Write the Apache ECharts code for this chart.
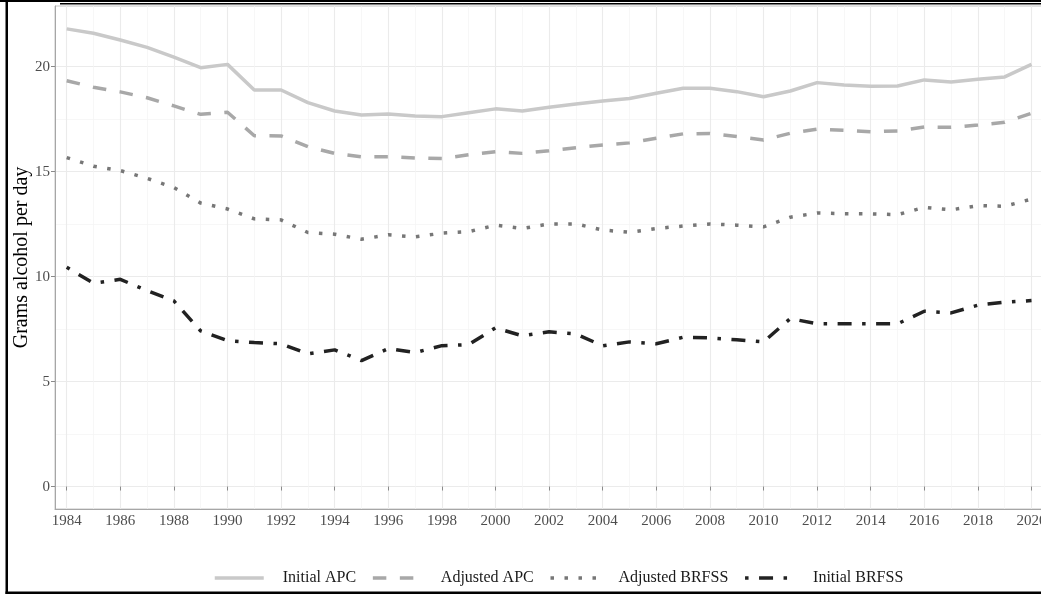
<!DOCTYPE html>
<html>
<head>
<meta charset="utf-8">
<script src="https://cdn.jsdelivr.net/npm/echarts@6/dist/echarts.min.js"></script>
<style>
html,body{margin:0;padding:0;background:#fff;}
#chart{width:1041px;height:594px;}
</style>
</head>
<body>
<div id="chart"></div>
<script>
const years = [1984,1985,1986,1987,1988,1989,1990,1991,1992,1993,1994,1995,1996,1997,1998,1999,2000,2001,2002,2003,2004,2005,2006,2007,2008,2009,2010,2011,2012,2013,2014,2015,2016,2017,2018,2019,2020];
const initialAPC = [21.8,21.59,21.27,20.92,20.45,19.95,20.11,18.89,18.89,18.29,17.89,17.70,17.75,17.65,17.62,17.81,17.99,17.89,18.07,18.22,18.37,18.48,18.73,18.97,18.97,18.81,18.57,18.84,19.24,19.13,19.07,19.08,19.37,19.27,19.40,19.51,20.11];
const adjustedAPC = [19.33,19.02,18.8,18.52,18.13,17.73,17.83,16.71,16.70,16.19,15.87,15.71,15.71,15.65,15.62,15.81,15.95,15.87,16.0,16.14,16.27,16.37,16.59,16.8,16.82,16.67,16.51,16.83,17.02,16.97,16.9,16.94,17.13,17.11,17.22,17.35,17.78];
const adjustedBRFSS = [15.67,15.26,15.05,14.68,14.24,13.5,13.22,12.75,12.7,12.1,12.02,11.78,11.99,11.89,12.07,12.14,12.45,12.29,12.51,12.51,12.22,12.11,12.29,12.41,12.51,12.45,12.37,12.83,13.03,13.0,12.99,12.95,13.3,13.18,13.38,13.35,13.69];
const initialBRFSS = [10.45,9.68,9.87,9.33,8.84,7.41,6.95,6.86,6.8,6.32,6.51,6.0,6.57,6.38,6.71,6.76,7.56,7.18,7.37,7.27,6.7,6.89,6.8,7.11,7.08,6.99,6.89,8.0,7.75,7.75,7.75,7.75,8.35,8.27,8.64,8.78,8.86];
const seriesNames = ['Initial APC','Adjusted APC','Adjusted BRFSS','Initial BRFSS'];
const yTitle = 'Grams alcohol per day';

const FONT = 'Liberation Serif';
const pair = arr => years.map((y,i)=>[y,arr[i]]);

const chart = echarts.init(document.getElementById('chart'), null, {renderer:'canvas'});
const gridCol = '#ebebeb';
const minorCol = '#f4f4f4';
const lw = 3.5;

const option = {
  backgroundColor:'#ffffff',
  animation:false,
  grid:[
    {left:66.7, top:6, width:964.8, height:503, outerBoundsMode:'none', containLabel:false},
    {left:55, top:66.7, width:988, height:420, outerBoundsMode:'none', containLabel:false},
    {left:55, top:6, width:988, height:503, show:true, borderColor:'#c4c4c4', borderWidth:1, backgroundColor:'transparent', outerBoundsMode:'none', containLabel:false}
  ],
  xAxis:[
    {type:'value', gridIndex:0, min:1984, max:2020, interval:2,
     axisLine:{show:false},
     axisTick:{show:true, length:4, lineStyle:{color:'#8a8a8a', width:1}},
     axisLabel:{color:'#4d4d4d', fontFamily:FONT, fontSize:15, margin:5, showMinLabel:true, showMaxLabel:true,
                formatter: v => String(v)},
     splitLine:{show:true, lineStyle:{color:gridCol, width:1.1}},
     minorTick:{show:false, splitNumber:2},
     minorSplitLine:{show:true, lineStyle:{color:minorCol, width:0.7}}
    },
    {type:'value', gridIndex:1, min:0, max:1, show:false},
    {type:'value', gridIndex:2, min:0, max:1,
     axisLine:{show:true, onZero:false, lineStyle:{color:'#a6a6a6', width:1}},
     axisTick:{show:false}, axisLabel:{show:false}, splitLine:{show:false}}
  ],
  yAxis:[
    {type:'value', gridIndex:0, min:-1.07, max:22.89, show:false},
    {type:'value', gridIndex:1, min:0, max:20, interval:5,
     axisLine:{show:false},
     axisTick:{show:true, length:4, lineStyle:{color:'#8a8a8a', width:1}},
     axisLabel:{color:'#4d4d4d', fontFamily:FONT, fontSize:15, margin:5},
     splitLine:{show:true, lineStyle:{color:gridCol, width:1.1}},
     minorTick:{show:false, splitNumber:2},
     minorSplitLine:{show:true, lineStyle:{color:minorCol, width:0.7}}
    },
    {type:'value', gridIndex:2, min:0, max:1,
     axisLine:{show:true, onZero:false, lineStyle:{color:'#a6a6a6', width:1}},
     axisTick:{show:false}, axisLabel:{show:false}, splitLine:{show:false},
     name:yTitle, nameLocation:'middle', nameGap:23,
     nameTextStyle:{color:'#000', fontFamily:FONT, fontSize:20}
    }
  ],
  legend:{
    left:213, top:570, orient:'horizontal', padding:0,
    itemWidth:49, itemHeight:14, itemGap:15,
    itemStyle:{opacity:0},
    lineStyle:{width:lw},
    textStyle:{fontFamily:FONT, fontSize:16, color:'#1a1a1a', padding:[0,0,0,14]},
    data:seriesNames
  },
  series:[
    {name:seriesNames[0], type:'line', xAxisIndex:0, yAxisIndex:0, data:pair(initialAPC), symbol:'none',
     lineStyle:{color:'#c9c9c9', width:lw, type:'solid'}, itemStyle:{color:'#c9c9c9'}, z:3},
    {name:seriesNames[1], type:'line', xAxisIndex:0, yAxisIndex:0, data:pair(adjustedAPC), symbol:'none',
     lineStyle:{color:'#a8a8a8', width:lw, type:[13.5,13.5]}, itemStyle:{color:'#a8a8a8'}, z:3},
    {name:seriesNames[2], type:'line', xAxisIndex:0, yAxisIndex:0, data:pair(adjustedBRFSS), symbol:'none',
     lineStyle:{color:'#777777', width:lw, type:[3.5,10.5]}, itemStyle:{color:'#777777'}, z:3},
    {name:seriesNames[3], type:'line', xAxisIndex:0, yAxisIndex:0, data:pair(initialBRFSS), symbol:'none',
     lineStyle:{color:'#222222', width:lw, type:[3.5,10.5,14,10.5]}, itemStyle:{color:'#222222'}, z:3}
  ],
  graphic:[
    {type:'rect', shape:{x:0, y:0, width:1041, height:2}, style:{fill:'#000'}, silent:true},
    {type:'rect', shape:{x:60, y:3, width:981, height:1.5}, style:{fill:'#000'}, silent:true},
    {type:'rect', shape:{x:5.5, y:0, width:2.5, height:594}, style:{fill:'#000'}, silent:true},
    {type:'rect', shape:{x:5.5, y:591.5, width:1036, height:2.5}, style:{fill:'#000'}, silent:true}
  ]
};
chart.setOption(option);
</script>
</body>
</html>
